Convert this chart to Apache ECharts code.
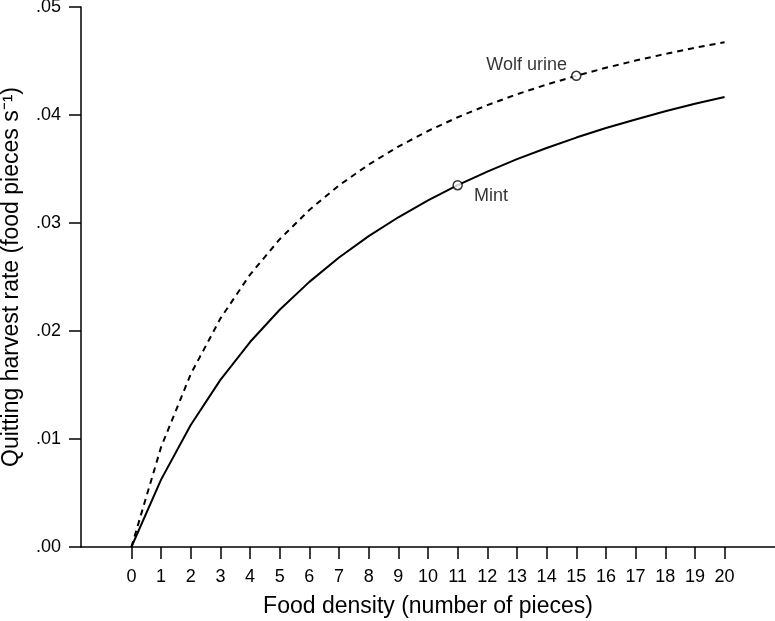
<!DOCTYPE html>
<html>
<head>
<meta charset="utf-8">
<script src="https://cdn.jsdelivr.net/npm/echarts@6/dist/echarts.min.js"></script>
<style>html,body{margin:0;padding:0;background:#fff}#c{width:775px;height:621px}</style>
</head>
<body>
<div id="c"></div>
<script>
var foodDensity = [0,1,2,3,4,5,6,7,8,9,10,11,12,13,14,15,16,17,18,19,20];
var mintRate = [0,0.00624,0.01129,0.01547,0.01898,0.02197,0.02455,0.02680,0.02878,0.03053,0.03209,0.03350,0.03476,0.03591,0.03695,0.03791,0.03879,0.03959,0.04034,0.04104,0.04167];
var wolfRate = [0,0.00925,0.01601,0.02116,0.02522,0.02850,0.03121,0.03348,0.03541,0.03708,0.03852,0.03979,0.04091,0.04192,0.04282,0.04363,0.04437,0.04504,0.04565,0.04622,0.04674];
var xTickValues = [0,1,2,3,4,5,6,7,8,9,10,11,12,13,14,15,16,17,18,19,20];
var mintMarkIndex = 11;
var wolfMarkIndex = 15;
var seriesNames = ['Mint','Wolf urine'];

var FONT = '"Liberation Sans", Arial, sans-serif';
function pairs(xs, ys){ return xs.map(function(x,i){ return [x, ys[i]]; }); }

var chart = echarts.init(document.getElementById('c'));
chart.setOption({
  backgroundColor: '#fff',
  animation: false,
  grid: { left: 81, right: 0, top: 7, bottom: 74, containLabel: false, outerBoundsMode: 'none' },
  xAxis: {
    type: 'value', min: -1.7, max: 21.7,
    name: 'Food density (number of pieces)',
    nameLocation: 'middle', nameGap: 48,
    nameTextStyle: { fontFamily: FONT, fontSize: 23, color: '#000' },
    axisLine: { onZero: false, lineStyle: { color: '#000', width: 1.5 } },
    axisTick: { show: true, inside: false, length: 12, customValues: xTickValues, lineStyle: { color: '#000', width: 1.5 } },
    axisLabel: { customValues: xTickValues, margin: 21, fontFamily: FONT, fontSize: 18, color: '#000' },
    splitLine: { show: false }
  },
  yAxis: {
    type: 'value', min: 0, max: 0.05, interval: 0.01,
    name: 'Quitting harvest rate (food pieces s\u207B\u00B9)',
    nameLocation: 'middle', nameGap: 58,
    nameTextStyle: { fontFamily: FONT, fontSize: 23, color: '#000' },
    axisLine: { show: true, onZero: false, lineStyle: { color: '#000', width: 1.5 } },
    axisTick: { show: true, inside: false, length: 12, lineStyle: { color: '#000', width: 1.5 } },
    axisLabel: { margin: 20, fontFamily: FONT, fontSize: 18, color: '#000',
      formatter: function(v){ return v.toFixed(2).replace(/^0/, ''); } },
    splitLine: { show: false }
  },
  series: [
    { name: seriesNames[0], type: 'line', data: pairs(foodDensity, mintRate), symbol: 'none', smooth: false,
      lineStyle: { color: '#000', width: 2 }, z: 2 },
    { name: seriesNames[1], type: 'line', data: pairs(foodDensity, wolfRate), symbol: 'none', smooth: false,
      lineStyle: { color: '#000', width: 2, type: [6, 5] }, z: 2 },
    { type: 'scatter', data: [[foodDensity[mintMarkIndex], mintRate[mintMarkIndex]]], symbol: 'circle', symbolSize: 9,
      itemStyle: { color: '#fff', borderColor: '#000', borderWidth: 1.5 }, z: 3,
      label: { show: true, position: 'right', offset: [6, 11], formatter: seriesNames[0], fontFamily: FONT, fontSize: 18, color: '#000' } },
    { type: 'scatter', data: [[foodDensity[wolfMarkIndex], wolfRate[wolfMarkIndex]]], symbol: 'circle', symbolSize: 9,
      itemStyle: { color: '#fff', borderColor: '#000', borderWidth: 1.5 }, z: 3,
      label: { show: true, position: 'left', offset: [1, -11], formatter: seriesNames[1], fontFamily: FONT, fontSize: 18, color: '#000' } }
  ]
});
</script>
</body>
</html>
